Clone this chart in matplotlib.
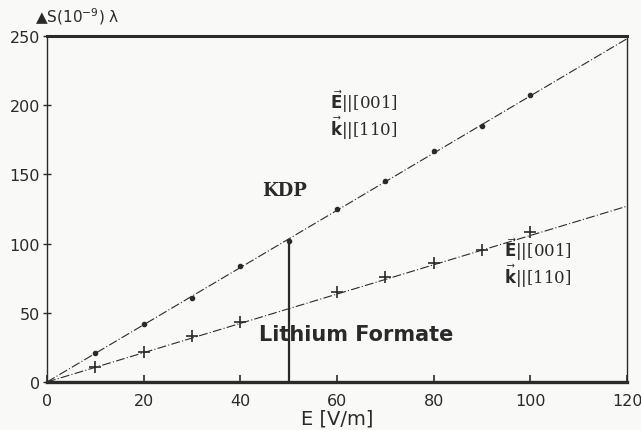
import matplotlib.pyplot as plt

# field values (V/m) and measured path difference
e_field = [10, 20, 30, 40, 50, 60, 70, 80, 90, 100]
kdp = [21, 42, 61, 84, 102, 125, 145, 167, 185, 207]
li_field = [10, 20, 30, 40, 60, 70, 80, 90, 100]
li_formate = [11, 22, 33, 43, 65, 76, 86, 95, 108]

# fitted straight lines, drawn from origin to the right edge
kdp_fit_x = [0, 120]
kdp_fit_y = [0, 248]
li_fit_x = [0, 120]
li_fit_y = [0, 127]

# the vertical marker at E = 50
marker_x = 50
marker_top = 102

xticks = [0, 20, 40, 60, 80, 100, 120]
yticks = [0, 50, 100, 150, 200, 250]

ink = "#2a2a2a"
plt.rcParams["font.family"] = "DejaVu Sans"

fig = plt.figure(figsize=(6.41, 4.31), dpi=100, facecolor="#f9f9f7")
ax = fig.add_axes([0.0733, 0.1114, 0.905, 0.803])
ax.set_facecolor("#f9f9f7")

ax.plot(kdp_fit_x, kdp_fit_y, color=ink, lw=0.8, dashes=(8, 2, 1, 2))
ax.plot(li_fit_x, li_fit_y, color=ink, lw=0.8, dashes=(8, 2, 1, 2))
ax.plot(e_field, kdp, ls="none", marker="o", ms=3, color=ink)
ax.plot(li_field, li_formate, ls="none", marker="+", ms=9, mew=1.2, color=ink)
ax.plot([marker_x, marker_x], [0, marker_top], color=ink, lw=1.6)

ax.set_xlim(0, 120)
ax.set_ylim(0, 250)
ax.set_xticks(xticks)
ax.set_yticks(yticks)
ax.tick_params(axis="x", direction="in", length=5, width=1.2, colors=ink,
               labelsize=11.5, pad=8)
ax.tick_params(axis="y", direction="inout", length=6, width=1, colors=ink,
               labelsize=11.5, pad=2)

for side, w in [("top", 2.2), ("bottom", 2.4), ("left", 1.0), ("right", 1.0)]:
    ax.spines[side].set_linewidth(w)
    ax.spines[side].set_color(ink)

ax.set_xlabel("E [V/m]", fontsize=14, color=ink, labelpad=0)
fig.text(0.055, 0.948, "▲S(10$^{-9}$) λ", fontsize=11, color=ink)

serif = dict(family="DejaVu Serif", color=ink)
ax.text(44.5, 139, "KDP", fontsize=13, fontweight="bold", va="center", **serif)
ax.text(58.5, 203, r"$\vec{\mathbf{E}}$||[001]", fontsize=12, va="center", **serif)
ax.text(58.5, 184, r"$\vec{\mathbf{k}}$||[110]", fontsize=12, va="center", **serif)
ax.text(94.5, 96, r"$\vec{\mathbf{E}}$||[001]", fontsize=12, va="center", **serif)
ax.text(94.5, 77, r"$\vec{\mathbf{k}}$||[110]", fontsize=12, va="center", **serif)
ax.text(43.8, 35, "Lithium Formate", fontsize=15, fontweight="bold",
        va="center", color=ink)

fig.savefig("out.png", dpi=100, facecolor=fig.get_facecolor())
